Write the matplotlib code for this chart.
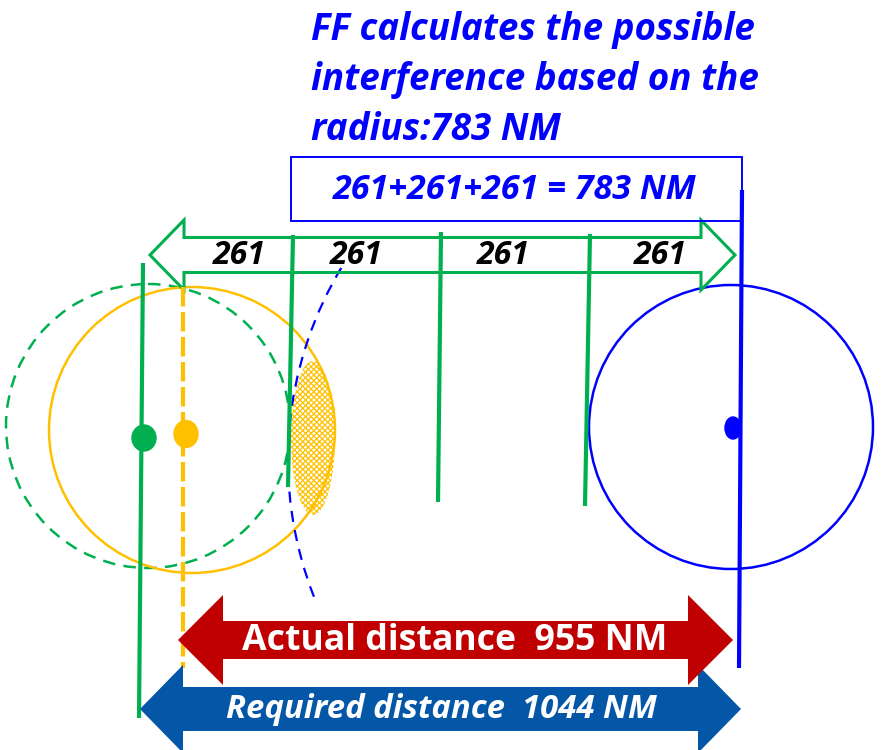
import numpy as np
import matplotlib
matplotlib.use('Agg')
import matplotlib.pyplot as plt
from matplotlib.patches import Circle, Ellipse, Arc, Polygon, Rectangle

plt.rcParams['font.family'] = ['Open Sans', 'DejaVu Sans']
plt.rcParams['lines.scale_dashes'] = False
plt.rcParams['hatch.linewidth'] = 0.9

# TEXT
title_lines = ['FF calculates the possible',
               'interference based on the',
               'radius:783 NM']
sum_text = '261+261+261 = 783 NM'
seg_labels = ['261', '261', '261', '261']
actual_text = 'Actual distance  955 NM'
required_text = 'Required distance  1044 NM'

# COLOURS
GREEN = '#00B050'
ORANGE = '#FFC000'
BLUE = '#0000FF'
RED = '#C00000'
NAVY = '#0457A6'

# GEOMETRY (pixel space, y grows downward)
seg_label_x = [239, 356, 503, 660]
seg_label_y = 256
green_ticks = [(143, 263, 139, 718), (293, 235, 288, 487),
               (441, 232, 438, 502), (590, 234, 585, 506)]
orange_line = (183, 287, 183, 668)
blue_line = (742, 190, 739, 668)

green_circle = (148, 426, 142)
orange_circle = (192, 430, 143)
blue_circle = (731, 427, 142)

green_dot = (144, 438, 24, 26)
orange_dot = (186, 434, 24, 27)
blue_dot = (733, 428, 16, 22)

blue_arc = (661, 460, 373, 158.5, 211.5)
hatch_zone = (313, 438, 44, 154)

# arrows: left tip x, right tip x, centre y, shaft half height, head half height, head length
green_arrow = (150, 735, 255, 17.5, 35, 34)
red_arrow = (178, 733, 640, 19, 45, 45)
navy_arrow = (140, 741, 709, 22, 44, 43)


def double_arrow(x0, x1, yc, sh, hh, hl):
    return [(x0, yc), (x0 + hl, yc - hh), (x0 + hl, yc - sh),
            (x1 - hl, yc - sh), (x1 - hl, yc - hh), (x1, yc),
            (x1 - hl, yc + hh), (x1 - hl, yc + sh), (x0 + hl, yc + sh),
            (x0 + hl, yc + hh)]


fig = plt.figure(figsize=(8.84, 7.5), dpi=100)
ax = fig.add_axes([0, 0, 1, 1])
ax.set_xlim(0, 884)
ax.set_ylim(750, 0)
ax.axis('off')

# circles
cx, cy, r = green_circle
ax.add_patch(Circle((cx, cy), r, fill=False, ec=GREEN, lw=1.8,
                    ls=(0, (9, 6)), zorder=2))
cx, cy, r = orange_circle
ax.add_patch(Circle((cx, cy), r, fill=False, ec=ORANGE, lw=1.8, zorder=2))
cx, cy, r = blue_circle
ax.add_patch(Circle((cx, cy), r, fill=False, ec=BLUE, lw=1.8, zorder=2))

# hatched interference zone
hx, hy, hw, hh = hatch_zone
ax.add_patch(Ellipse((hx, hy), hw, hh, fc='none', ec=ORANGE, lw=0,
                     hatch='xxxxxx', zorder=2))

# blue dashed arc
ax_, ay_, ar, t1, t2 = blue_arc
ax.add_patch(Arc((ax_, ay_), 2 * ar, 2 * ar, theta1=t1, theta2=t2,
                 ec=BLUE, lw=1.6, ls=(0, (8, 6)), zorder=3))

# green outline arrow
ax.add_patch(Polygon(double_arrow(*green_arrow), closed=True, fc='none',
                     ec=GREEN, lw=2.2, joinstyle='miter', zorder=3))

# vertical lines
for x0, y0, x1, y1 in green_ticks:
    ax.plot([x0, x1], [y0, y1], color=GREEN, lw=3, zorder=4,
            solid_capstyle='butt')
x0, y0, x1, y1 = orange_line
ax.plot([x0, x1], [y0, y1], color=ORANGE, lw=3, ls=(0, (14, 4)), zorder=4)
x0, y0, x1, y1 = blue_line
ax.plot([x0, x1], [y0, y1], color=BLUE, lw=3, zorder=4,
        solid_capstyle='butt')

# dots
for (dx, dy, dw, dh), col in [(green_dot, GREEN), (orange_dot, ORANGE),
                              (blue_dot, BLUE)]:
    ax.add_patch(Ellipse((dx, dy), dw, dh, color=col, zorder=5))

# segment labels
for x, lab in zip(seg_label_x, seg_labels):
    ax.text(x, seg_label_y, lab, fontsize=23, fontweight='bold',
            fontstyle='italic', color='black', ha='center', va='center',
            zorder=6)

# box with sum
ax.add_patch(Rectangle((291, 157), 451, 64, fill=False, ec=BLUE, lw=1.4,
                       zorder=3))
ax.text(515, 190, sum_text, fontsize=24.6, fontweight='bold',
        fontstyle='italic', color=BLUE, ha='center', va='center', zorder=6)

# title
for i, line in enumerate(title_lines):
    ax.text(311, 40 + 50 * i, line, fontsize=26.5, fontweight='bold',
            fontstyle='italic', color=BLUE, ha='left', va='baseline')

# distance arrows
ax.add_patch(Polygon(double_arrow(*navy_arrow), closed=True, fc=NAVY,
                     ec='none', zorder=7))
ax.add_patch(Polygon(double_arrow(*red_arrow), closed=True, fc=RED,
                     ec='none', zorder=8))
ax.text(455, 641, actual_text, fontsize=25.7, fontweight='bold',
        color='white', ha='center', va='center', zorder=9)
ax.text(441, 710, required_text, fontsize=23.7, fontweight='bold',
        fontstyle='italic', color='white', ha='center', va='center', zorder=9)

plt.savefig('out.png', dpi=100)
